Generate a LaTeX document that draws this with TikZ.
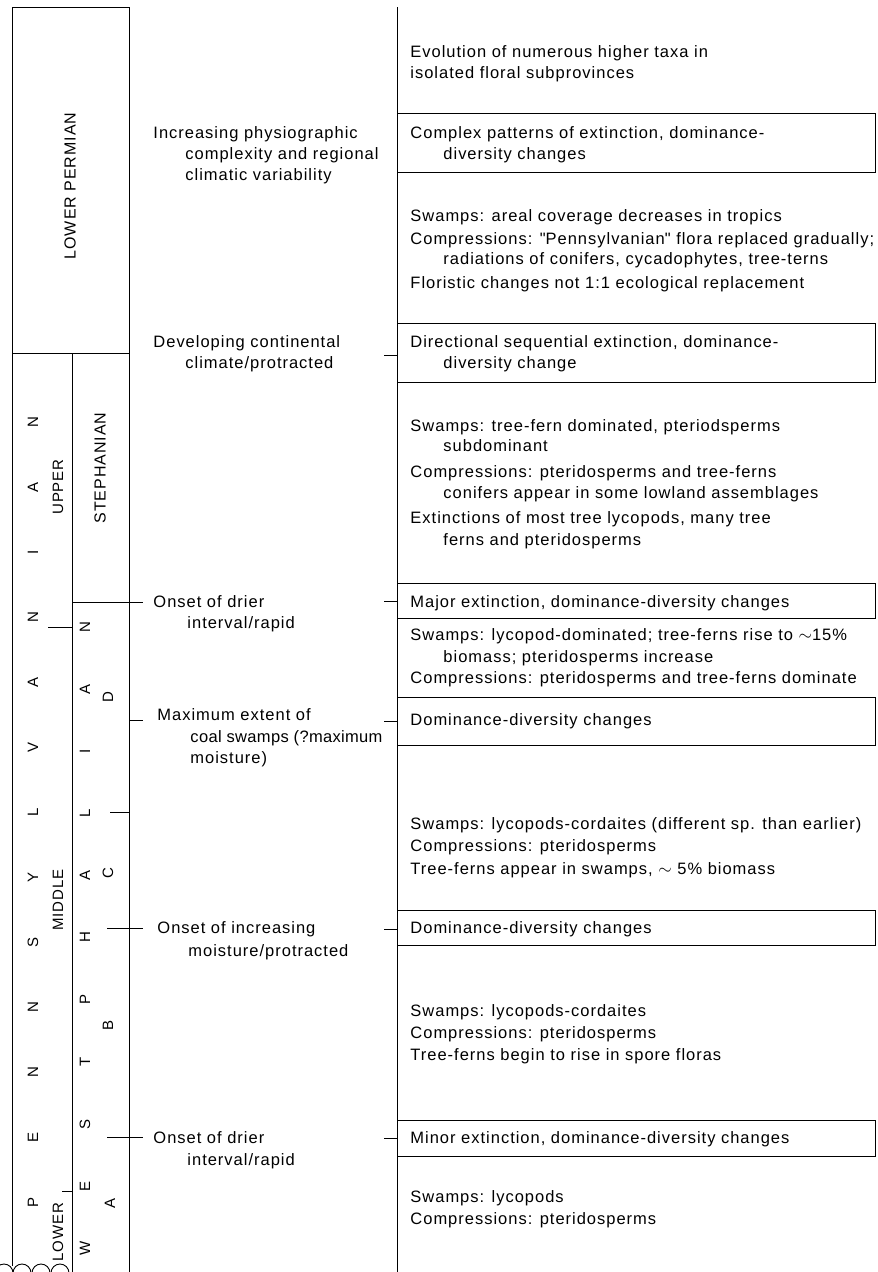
\documentclass[tikz,border=0pt]{standalone}
\usepackage{fontspec}
\setmainfont{Liberation Sans}[LetterSpace=6]
\newfontfamily\qfont{Liberation Sans}[LetterSpace=6,Ligatures=TeXOff]
\newcommand{\sq}{{\qfont\symbol{"22}}}
\begin{document}
\begin{tikzpicture}[x=1pt,y=-1pt,line width=0.9pt,
  txt/.style={anchor=base west,inner sep=0pt,font=\fontsize{16.5}{20}\selectfont},
  rot/.style={rotate=90,inner sep=0pt,font=\fontsize{15}{15}\selectfont},
  bigrot/.style={rotate=90,inner sep=0pt,font=\fontsize{16}{16}\selectfont},
  evbox/.style={draw,anchor=north west,inner sep=0pt,minimum width=478pt},
  tick/.style={line width=0.9pt}]
\useasboundingbox (0,0) rectangle (878,1272);
% ---------- stratigraphic columns ----------
\node[draw,anchor=north west,inner sep=0pt,minimum width=117pt,minimum height=346pt] (lp) at (12,7) {};
\node[bigrot] (lptxt) at (70,186) {LOWER PERMIAN};
\coordinate (c1top) at (12,353);
\coordinate (c2top) at (72,353);
\coordinate (c3top) at (129,353);
\coordinate (c1bot) at (12,1266);
\coordinate (c2bot) at (72,1272);
\coordinate (c3bot) at (129,1272);
\draw (c1top) -- (c1bot);
\draw (c2top) -- (c2bot);
\draw (c3top) -- (c3bot);
% break marks at the bottom
\draw (-5,1273) arc[start angle=180,end angle=360,radius=9];
\draw (13,1273) arc[start angle=180,end angle=360,radius=9];
\draw (32,1273) arc[start angle=180,end angle=360,radius=9];
\draw (51,1273) arc[start angle=180,end angle=360,radius=9];
% internal boundaries
\coordinate (um1) at (48,627);   \coordinate (um2) at (72,627);
\coordinate (ml1) at (62,1191);  \coordinate (ml2) at (72,1191);
\coordinate (sw1) at (72,602);   \coordinate (sw2) at (143,602);
\coordinate (dc1) at (110,812);  \coordinate (dc2) at (129,812);
\coordinate (cb1) at (107,928);  \coordinate (cb2) at (143,928);
\coordinate (ba1) at (107,1137); \coordinate (ba2) at (143,1137);
\coordinate (mx1) at (129,720);  \coordinate (mx2) at (143,720);
\draw[tick] (um1) -- (um2);
\draw[tick] (ml1) -- (ml2);
\draw[tick] (sw1) -- (sw2);
\draw[tick] (dc1) -- (dc2);
\draw[tick] (cb1) -- (cb2);
\draw[tick] (ba1) -- (ba2);
\draw[tick] (mx1) -- (mx2);
% PENNSYLVANIAN
\node[rot] (p1) at (33,1202) {P};
\node[rot] (p2) at (33,1137) {E};
\node[rot] (p3) at (33,1072) {N};
\node[rot] (p4) at (33,1007) {N};
\node[rot] (p5) at (33,942) {S};
\node[rot] (p6) at (33,877) {Y};
\node[rot] (p7) at (33,812) {L};
\node[rot] (p8) at (33,747) {V};
\node[rot] (p9) at (33,682) {A};
\node[rot] (p10) at (33,617) {N};
\node[rot] (p11) at (33,552) {I};
\node[rot] (p12) at (33,487) {A};
\node[rot] (p13) at (33,422) {N};
\node[rot] (upper) at (58,487) {UPPER};
\node[rot] (middle) at (58,900) {MIDDLE};
\node[rot] (lower) at (58,1232) {LOWER};
% STEPHANIAN / WESTPHALIAN
\node[bigrot] (steph) at (100,468) {STEPHANIAN};
\node[rot] (w1) at (85,1248) {W};
\node[rot] (w2) at (85,1186) {E};
\node[rot] (w3) at (85,1124) {S};
\node[rot] (w4) at (85,1062) {T};
\node[rot] (w5) at (85,999) {P};
\node[rot] (w6) at (85,937) {H};
\node[rot] (w7) at (85,875) {A};
\node[rot] (w8) at (85,813) {L};
\node[rot] (w9) at (85,751) {I};
\node[rot] (w10) at (85,689) {A};
\node[rot] (w11) at (85,627) {N};
\node[rot] (sd) at (108,697) {D};
\node[rot] (sc) at (108,873) {C};
\node[rot] (sb) at (108,1025) {B};
\node[rot] (sa) at (110,1203) {A};
% ---------- middle column ----------
\node[txt] (m1a) at (153,138) {Increasing physiographic};
\node[txt] (m1b) at (185,159) {complexity and regional};
\node[txt] (m1c) at (185,180) {climatic variability};
\node[txt] (m2a) at (153,347) {Developing continental};
\node[txt] (m2b) at (185,368) {climate/protracted};
\node[txt] (m3a) at (153,607) {Onset of drier};
\node[txt] (m3b) at (187,628) {interval/rapid};
\node[txt] (m4a) at (157,720) {Maximum extent of};
\node[txt] (m4b) at (190,742) {\addfontfeature{LetterSpace=2}coal swamps (?maximum};
\node[txt] (m4c) at (190,763) {moisture)};
\node[txt] (m5a) at (157,933) {Onset of increasing};
\node[txt] (m5b) at (188,956) {moisture/protracted};
\node[txt] (m6a) at (153,1143) {Onset of drier};
\node[txt] (m6b) at (187,1165) {interval/rapid};
% ---------- right column ----------
\coordinate (vtop) at (397,7);
\coordinate (vbot) at (397,1272);
\draw (vtop) -- (vbot);
\node[evbox,minimum height=59pt] (b1) at (397,113) {};
\node[evbox,minimum height=59pt] (b2) at (397,323) {};
\node[evbox,minimum height=35pt] (b3) at (397,583) {};
\node[evbox,minimum height=48pt] (b4) at (397,697) {};
\node[evbox,minimum height=35pt] (b5) at (397,910) {};
\node[evbox,minimum height=36pt] (b6) at (397,1120) {};
\coordinate (rt2) at (384,355);
\coordinate (rt3) at (384,601);
\coordinate (rt4) at (384,721);
\coordinate (rt5) at (384,929);
\coordinate (rt6) at (384,1138);
\draw[tick] (rt2) -- (rt2 -| b2.west);
\draw[tick] (rt3) -- (rt3 -| b3.west);
\draw[tick] (rt4) -- (rt4 -| b4.west);
\draw[tick] (rt5) -- (rt5 -| b5.west);
\draw[tick] (rt6) -- (rt6 -| b6.west);
\node[txt] (r1a) at (410,57) {Evolution of numerous higher taxa in};
\node[txt] (r1b) at (410,78) {isolated floral subprovinces};
\node[txt] (r2a) at (410,138) {Complex patterns of extinction, dominance-};
\node[txt] (r2b) at (443,159) {diversity changes};
\node[txt] (r3a) at (410,221) {Swamps: areal coverage decreases in tropics};
\node[txt] (r3b) at (410,244) {Compressions: \sq Pennsylvanian\sq\ flora replaced gradually;};
\node[txt] (r3c) at (443,264) {radiations of conifers, cycadophytes, tree-terns};
\node[txt] (r3d) at (410,288) {Floristic changes not 1:1 ecological replacement};
\node[txt] (r4a) at (410,347) {Directional sequential extinction, dominance-};
\node[txt] (r4b) at (443,368) {diversity change};
\node[txt] (r5a) at (410,431) {Swamps: tree-fern dominated, pteriodsperms};
\node[txt] (r5b) at (443,451) {subdominant};
\node[txt] (r5c) at (410,477) {Compressions: pteridosperms and tree-ferns};
\node[txt] (r5d) at (443,498) {conifers appear in some lowland assemblages};
\node[txt] (r5e) at (410,523) {Extinctions of most tree lycopods, many tree};
\node[txt] (r5f) at (443,545) {ferns and pteridosperms};
\node[txt] (r6) at (410,607) {Major extinction, dominance-diversity changes};
\node[txt] (r7a) at (410,640) {Swamps: lycopod-dominated; tree-ferns rise to \(\sim\)15\%};
\node[txt] (r7b) at (443,662) {biomass; pteridosperms increase};
\node[txt] (r7c) at (410,683) {Compressions: pteridosperms and tree-ferns dominate};
\node[txt] (r8) at (410,725) {Dominance-diversity changes};
\node[txt] (r9a) at (410,829) {Swamps: lycopods-cordaites (different sp. than earlier)};
\node[txt] (r9b) at (410,851) {Compressions: pteridosperms};
\node[txt] (r9c) at (410,874) {Tree-ferns appear in swamps, \(\sim\) 5\% biomass};
\node[txt] (r10) at (410,933) {Dominance-diversity changes};
\node[txt] (r11a) at (410,1016) {Swamps: lycopods-cordaites};
\node[txt] (r11b) at (410,1038) {Compressions: pteridosperms};
\node[txt] (r11c) at (410,1060) {Tree-ferns begin to rise in spore floras};
\node[txt] (r12) at (410,1143) {Minor extinction, dominance-diversity changes};
\node[txt] (r13a) at (410,1202) {Swamps: lycopods};
\node[txt] (r13b) at (410,1224) {Compressions: pteridosperms};
\end{tikzpicture}
\end{document}
